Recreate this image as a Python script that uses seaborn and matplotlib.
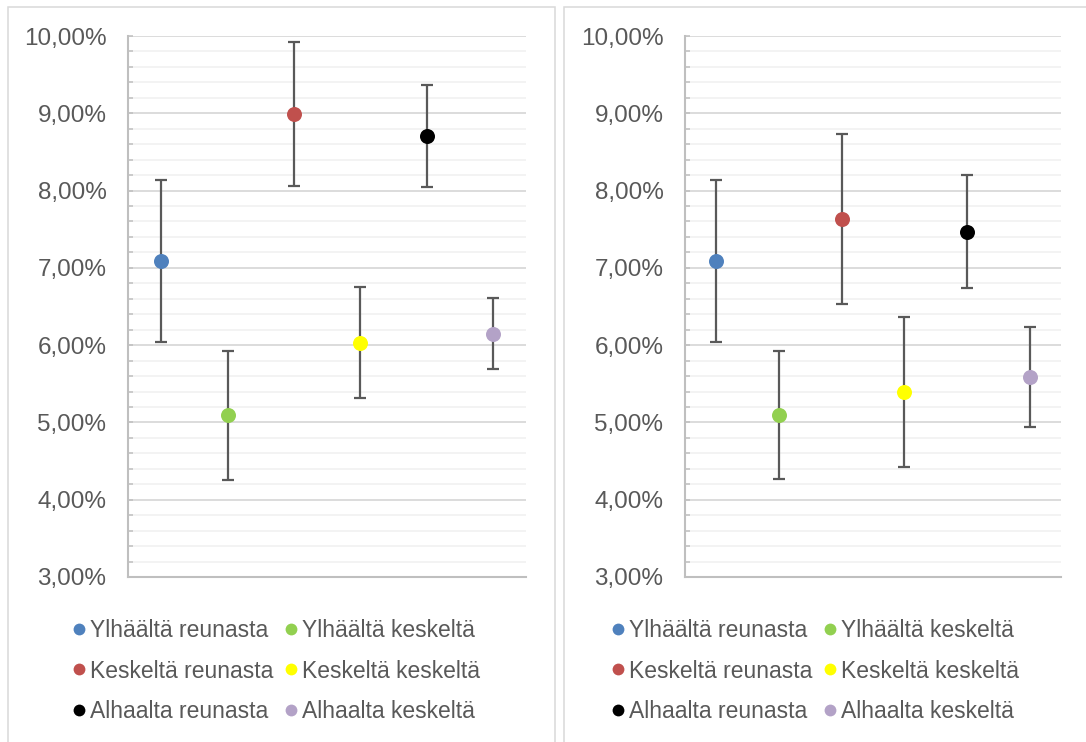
import matplotlib
matplotlib.use("Agg")
import matplotlib.pyplot as plt
from matplotlib.ticker import MultipleLocator, FuncFormatter
from matplotlib.patches import Rectangle
from matplotlib.lines import Line2D
import seaborn as sns
import pandas as pd

# Measurement locations and their series colours
categories = [
    "Ylhäältä reunasta", "Ylhäältä keskeltä",
    "Keskeltä reunasta", "Keskeltä keskeltä",
    "Alhaalta reunasta", "Alhaalta keskeltä",
]
colors = ["#4f81bd", "#92d050", "#c0504d", "#ffff00", "#000000", "#b3a2c7"]

# Shares (%) with their error margins, left and right chart
left_values = [7.09, 5.09, 8.99, 6.03, 8.70, 6.15]
left_errors = [1.05, 0.83, 0.93, 0.72, 0.66, 0.46]
right_values = [7.09, 5.10, 7.63, 5.39, 7.47, 5.59]
right_errors = [1.05, 0.83, 1.10, 0.97, 0.73, 0.65]

y_ticks = [3, 4, 5, 6, 7, 8, 9, 10]

TEXT = "#595959"
W, H = 1086, 742

sns.set_theme(style="white")
plt.rcParams["font.family"] = ["Liberation Sans", "DejaVu Sans"]

fig = plt.figure(figsize=(W / 100, H / 100), dpi=100)


def px_rect(x0, y0, x1, y1):
    return [x0 / W, 1 - y1 / H, (x1 - x0) / W, (y1 - y0) / H]


# Chart frames
for x0, x1 in [(8, 555), (564, 1100)]:
    fig.patches.append(Rectangle((x0 / W, -0.02), (x1 - x0) / W, 1 - 7 / H + 0.02,
                                 transform=fig.transFigure, fill=False,
                                 edgecolor="#d9d9d9", linewidth=1.1, zorder=0))

ax_left = fig.add_axes(px_rect(128, 36, 526, 577))
ax_right = fig.add_axes(px_rect(685, 36, 1061, 577))


def pct(v, _):
    return f"{v:.2f}".replace(".", ",") + "%"


def draw_panel(ax, values, errors, legend_center):
    df = pd.DataFrame({"kohta": categories, "osuus": values, "virhe": errors})
    ax.errorbar(range(len(df)), df["osuus"], yerr=df["virhe"], fmt="none",
                ecolor="#595959", elinewidth=1.6, capsize=4.6, capthick=1.6, zorder=3)
    sns.stripplot(data=df, x="kohta", y="osuus", hue="kohta", order=categories,
                  hue_order=categories, palette=colors, jitter=False, size=10.8,
                  linewidth=0, legend=False, ax=ax, zorder=4)
    ax.set_xlim(-0.5, len(categories) - 0.5)
    ax.set_ylim(min(y_ticks), max(y_ticks))
    ax.set_xticks([])
    ax.set_xlabel("")
    ax.set_ylabel("")
    ax.set_yticks(y_ticks)
    ax.yaxis.set_minor_locator(MultipleLocator(0.2))
    ax.yaxis.set_major_formatter(FuncFormatter(pct))
    ax.tick_params(axis="y", which="both", direction="in", length=3.6, width=1.1,
                   color="#bfbfbf", pad=15.5, labelsize=17.5, labelcolor=TEXT, left=True)
    ax.grid(which="major", axis="y", color="#d9d9d9", linewidth=1.3)
    ax.grid(which="minor", axis="y", color="#f0f0f0", linewidth=1.1)
    ax.set_axisbelow(True)
    for side in ["top", "right"]:
        ax.spines[side].set_visible(False)
    for side in ["left", "bottom"]:
        ax.spines[side].set_color("#bfbfbf")
        ax.spines[side].set_linewidth(1.5)

    handles = {c: Line2D([], [], linestyle="none", marker="o", markersize=8.5,
                         markerfacecolor=col, markeredgewidth=0)
               for c, col in zip(categories, colors)}
    order = categories[0::2] + categories[1::2]
    leg = fig.legend([handles[c] for c in order], order, loc="center",
                     bbox_to_anchor=(legend_center[0] / W, 1 - legend_center[1] / H),
                     ncol=2, frameon=False, fontsize=16.5, handlelength=0.6,
                     handletextpad=0.2, columnspacing=0.45, labelspacing=0.78,
                     borderpad=0)
    for t in leg.get_texts():
        t.set_color(TEXT)


draw_panel(ax_left, left_values, left_errors, (276, 671))
draw_panel(ax_right, right_values, right_errors, (815, 671))

fig.savefig("out.png", dpi=100)
